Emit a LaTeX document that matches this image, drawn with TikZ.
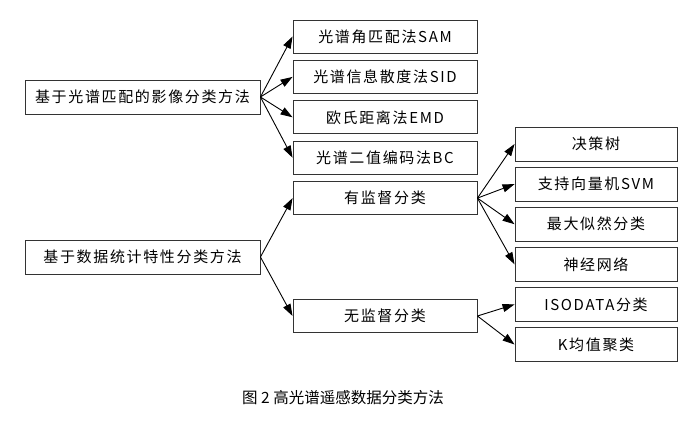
\documentclass[tikz,border=0pt]{standalone}
\usepackage{fontspec}
\setmainfont{Noto Sans CJK SC}
\newfontfamily\boxfont[LetterSpace=11]{Noto Sans CJK SC}
\usetikzlibrary{arrows.meta, positioning}

\begin{document}
\begin{tikzpicture}[
		x=1pt, y=1pt,
		node distance=6.5pt and 30pt,
		method/.style={rectangle, draw=black!80, line width=0.9pt, minimum width=235pt, minimum height=34pt, align=center, font=\boxfont\fontsize{15}{17}\selectfont},
		algo/.style={method, minimum width=184pt, minimum height=33pt},
		leaf/.style={method, minimum width=162pt, minimum height=34pt},
		arrow/.style={-{Triangle[length=12pt, width=8pt]}, line width=0.9pt}
		]
		\useasboundingbox (0,0) rectangle (698,-435);
		
		% Classification approaches
		\node[method] (match) at (142.5,-97) {基于光谱匹配的影像分类方法};
		\node[method] (stat) at (142.5,-257) {基于数据统计特性分类方法};
		
		% Spectral matching methods
		\node[algo] (sam) at (385,-36.5) {光谱角匹配法SAM};
		\node[algo, below=of sam] (sid) {光谱信息散度法SID};
		\node[algo, below=of sid] (emd) {欧氏距离法EMD};
		\node[algo, below=of emd] (sbc) {光谱二值编码法BC};
		
		% Statistical methods
		\node[algo, below=of sbc] (super) {有监督分类};
		\node[algo] (unsuper) at (385,-316) {无监督分类};
		
		% Supervised / unsupervised algorithms
		\node[leaf] (tree) at (596,-144) {决策树};
		\node[leaf, below=5.2pt of tree] (svm) {支持向量机SVM};
		\node[leaf, below=5.2pt of svm] (mlc) {最大似然分类};
		\node[leaf, below=5.2pt of mlc] (ann) {神经网络};
		\node[leaf, below=5.2pt of ann] (isodata) {ISODATA分类};
		\node[leaf, below=5.2pt of isodata] (kmeans) {K均值聚类};
		
		% Caption
		\node[font=\fontsize{15.5}{18}\selectfont] (caption) at (343,-398) {图 2 高光谱遥感数据分类方法};
		
		% Arrows
		\draw[arrow] (match.east) -- (sam.west);
		\draw[arrow] (match.east) -- (sid.west);
		\draw[arrow] (match.east) -- (emd.west);
		\draw[arrow] (match.east) -- (sbc.west);
		\draw[arrow] (stat.east) -- (super.west);
		\draw[arrow] (stat.east) -- (unsuper.west);
		\draw[arrow] (super.east) -- (tree.west);
		\draw[arrow] (super.east) -- (svm.west);
		\draw[arrow] (super.east) -- (mlc.west);
		\draw[arrow] (super.east) -- (ann.west);
		\draw[arrow] (unsuper.east) -- (isodata.west);
		\draw[arrow] (unsuper.east) -- (kmeans.west);
		
	\end{tikzpicture}
\end{document}
